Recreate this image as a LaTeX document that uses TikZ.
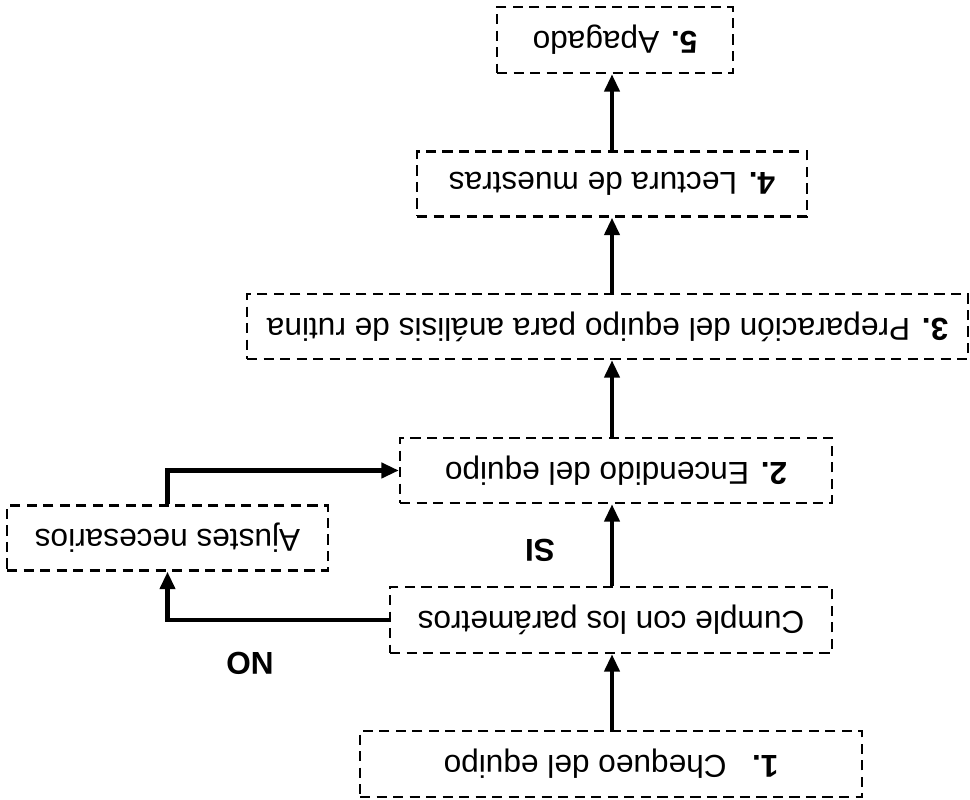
\documentclass[tikz,border=0pt]{standalone}
\usepackage{fontspec}
\setmainfont{Liberation Sans}
\usetikzlibrary{arrows.meta}
\begin{document}
\begin{tikzpicture}[x=0.02cm,y=0.02cm,
 box/.style={draw, line width=1.3pt, dash pattern=on 5.8pt off 3.6pt, rotate=180, inner sep=0pt, font=\fontsize{18}{21}\selectfont, align=center},
 arr/.style={line width=2.5pt, -{Triangle[length=10pt,width=8.5pt]}},
 lbl/.style={rotate=180, font=\fontsize{18}{21}\selectfont\bfseries}]
\useasboundingbox (0,0) rectangle (970,800);
\node[box, minimum width=4.72cm, minimum height=1.32cm] (b5) at (615,760) {\textbf{5.} Apagado};
\node[box, minimum width=7.8cm, minimum height=1.3cm] (b4) at (612,616) {\textbf{4.} Lectura de muestras};
\node[box, minimum width=14.42cm, minimum height=1.3cm] (b3) at (607.5,473.5) {\textbf{3.} Preparación del equipo para análisis de rutina};
\node[box, minimum width=8.64cm, minimum height=1.3cm] (b2) at (616,329.5) {\textbf{2.} Encendido del equipo};
\node[box, minimum width=6.42cm, minimum height=1.3cm] (aj) at (167.5,262) {Ajustes necesarios};
\node[box, minimum width=8.84cm, minimum height=1.32cm] (cu) at (611,180) {Cumple con los parámetros};
\node[box, minimum width=10.04cm, minimum height=1.32cm] (b1) at (611,36) {\textbf{1.}\hspace{0.8em}Chequeo del equipo};
\node[lbl] (si) at (540,250) {SI};
\node[lbl] (no) at (250,137) {NO};
\coordinate (ax) at (612,0);
\draw[arr] (b1.south -| ax) -- (cu.north -| ax);
\draw[arr] (cu.south -| ax) -- (b2.north -| ax);
\draw[arr] (b2.south -| ax) -- (b3.north -| ax);
\draw[arr] (b3.south -| ax) -- (b4.north -| ax);
\draw[arr] (b4.south -| ax) -- (b5.north -| ax);
\draw[arr] (cu.east) -| (aj.north);
\draw[arr] (aj.south) |- (b2.east);
\end{tikzpicture}
\end{document}
